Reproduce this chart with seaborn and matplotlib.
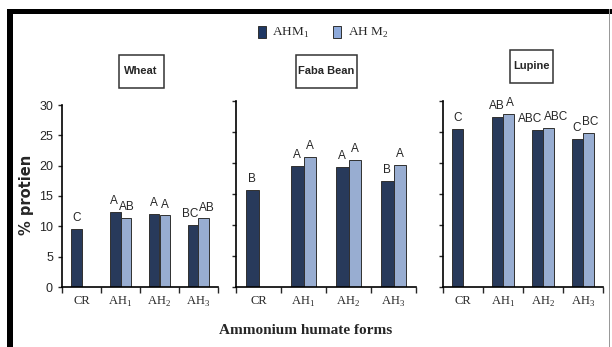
import numpy as np
import pandas as pd
import matplotlib
matplotlib.use("Agg")
import matplotlib.pyplot as plt
from matplotlib.patches import Patch, Rectangle
from matplotlib.ticker import FixedLocator
import seaborn as sns

# data
categories = ["CR", "AH1", "AH2", "AH3"]
tick_labels = ["CR", "AH$_1$", "AH$_2$", "AH$_3$"]
series = ["AHM1", "AHM2"]
legend_labels = ["AHM$_1$", "AH M$_2$"]
crops = ["Wheat", "Faba Bean", "Lupine"]

wheat_ahm1 = [9.6, 12.4, 12.0, 10.2]
wheat_ahm2 = [np.nan, 11.4, 11.8, 11.3]
faba_ahm1 = [15.6, 19.5, 19.3, 17.1]
faba_ahm2 = [np.nan, 20.9, 20.5, 19.7]
lupine_ahm1 = [25.5, 27.4, 25.4, 23.9]
lupine_ahm2 = [np.nan, 27.9, 25.7, 24.9]

wheat_letters = [["C", "A", "A", "BC"], ["", "AB", "A", "AB"]]
faba_letters = [["B", "A", "A", "B"], ["", "A", "A", "A"]]
lupine_letters = [["C", "AB", "ABC", "C"], ["", "A", "ABC", "BC"]]

colors = ["#1f3864", "#8eaadb"]
sans = ["Liberation Sans", "DejaVu Sans"]
serif = ["Liberation Serif", "DejaVu Serif"]

sns.set_style("white")
plt.rcParams["mathtext.fontset"] = "custom"
plt.rcParams["mathtext.rm"] = "Liberation Serif"


def make_frame(v1, v2):
    rows = []
    for c, a, b in zip(categories, v1, v2):
        rows.append({"form": c, "series": "AHM1", "value": a})
        if not np.isnan(b):
            rows.append({"form": c, "series": "AHM2", "value": b})
    return pd.DataFrame(rows)


panels = [
    (make_frame(wheat_ahm1, wheat_ahm2), wheat_letters, [62, 218, 105]),
    (make_frame(faba_ahm1, faba_ahm2), faba_letters, [236, 416, 101]),
    (make_frame(lupine_ahm1, lupine_ahm2), lupine_letters, [443, 603, 101]),
]
# title boxes in pixels: centre x, centre y, width, height
title_boxes = [(141, 71, 45, 33), (326, 71, 61, 33), (531, 66, 43, 33)]

W, H = 612, 347
fig = plt.figure(figsize=(W / 100, H / 100), dpi=100)
renderer = fig.canvas.get_renderer()

for k, (df, letters, (x0, x1, ytop)) in enumerate(panels):
    ax = fig.add_axes([x0 / W, 1 - 287 / H, (x1 - x0) / W, (287 - ytop) / H])
    sns.barplot(data=df, x="form", y="value", hue="series", order=categories,
                hue_order=series, palette=colors, width=0.55, dodge=True,
                edgecolor="#303030", linewidth=0.7, errorbar=None, legend=False, ax=ax)
    ax.set_xlim(-0.5, 3.5)
    ax.set_ylim(0, 30)
    ax.set_yticks(range(0, 31, 5))
    ax.set_xticks(range(4))
    ax.set_xticklabels(tick_labels, fontsize=9, family=serif)
    ax.xaxis.set_minor_locator(FixedLocator(np.arange(-0.5, 4, 1)))
    ax.tick_params(axis="x", which="major", length=0, pad=6)
    ax.tick_params(axis="x", which="minor", length=4, width=1, direction="out", bottom=True)
    ax.tick_params(axis="y", length=3, width=1, direction="out", left=True)
    if k == 0:
        for t in ax.get_yticklabels():
            t.set_fontsize(9)
            t.set_family(sans)
    else:
        ax.set_yticklabels([])
    ax.set_xlabel("")
    ax.set_ylabel("")
    sns.despine(ax=ax)
    for sp in ["left", "bottom"]:
        ax.spines[sp].set_linewidth(1.2)
        ax.spines[sp].set_color("black")

    # significance letters above bars
    placed = {}
    for s, cont in enumerate(ax.containers):
        for bar in cont:
            h = bar.get_height()
            if np.isnan(h) or h == 0:
                continue
            xc = bar.get_x() + bar.get_width() / 2
            i = int(round(xc))
            t = ax.text(xc, h + 0.8, letters[s][i], ha="center", va="bottom",
                        fontsize=8.5, family=sans, clip_on=False)
            placed[(s, i)] = t
    # push neighbouring labels apart when they would overlap
    px_per_unit = (x1 - x0) / 4
    for i in range(4):
        if (0, i) in placed and (1, i) in placed:
            a, b = placed[(0, i)], placed[(1, i)]
            wa = a.get_window_extent(renderer).width
            wb = b.get_window_extent(renderer).width
            gap = (b.get_position()[0] - a.get_position()[0]) * px_per_unit
            over = (wa + wb) / 2 + 1 - gap
            if over > 0:
                d = over / 2 / px_per_unit
                a.set_x(a.get_position()[0] - d)
                b.set_x(b.get_position()[0] + d)

    bx, by, bw, bh = title_boxes[k]
    fig.add_artist(Rectangle(((bx - bw / 2) / W, 1 - (by + bh / 2) / H), bw / W, bh / H,
                             transform=fig.transFigure, facecolor="white",
                             edgecolor="#333333", lw=1.1))
    fig.text(bx / W, 1 - by / H, crops[k], ha="center", va="center", fontsize=8,
             fontweight="bold", family=sans)

fig.text(27 / W, 1 - 195 / H, "% protien", rotation=90, ha="center", va="center",
         fontsize=10.5, fontweight="bold")
fig.text(306 / W, 1 - 330 / H, "Ammonium humate forms", ha="center", va="center",
         fontsize=11, fontweight="bold", family=serif)

handles = [Patch(facecolor=c, edgecolor="#303030", lw=0.7) for c in colors]
fig.legend(handles, legend_labels, loc="center", bbox_to_anchor=(323 / W, 1 - 33 / H),
           ncol=2, frameon=False, handlelength=0.6, handleheight=1.0,
           columnspacing=1.8, handletextpad=0.5, prop={"family": serif, "size": 9.5})

# outer frame: thick black left and top edges, thin grey right edge
fig.add_artist(Rectangle((7 / W, 0), 6 / W, 1 - 9 / H, transform=fig.transFigure,
                         facecolor="black", edgecolor="none"))
fig.add_artist(Rectangle((7 / W, 1 - 14 / H), 605 / W, 5 / H, transform=fig.transFigure,
                         facecolor="black", edgecolor="none"))
fig.add_artist(Rectangle((609 / W, 0), 1 / W, 1 - 9 / H, transform=fig.transFigure,
                         facecolor="#999999", edgecolor="none"))

fig.savefig("out.png", dpi=100)
